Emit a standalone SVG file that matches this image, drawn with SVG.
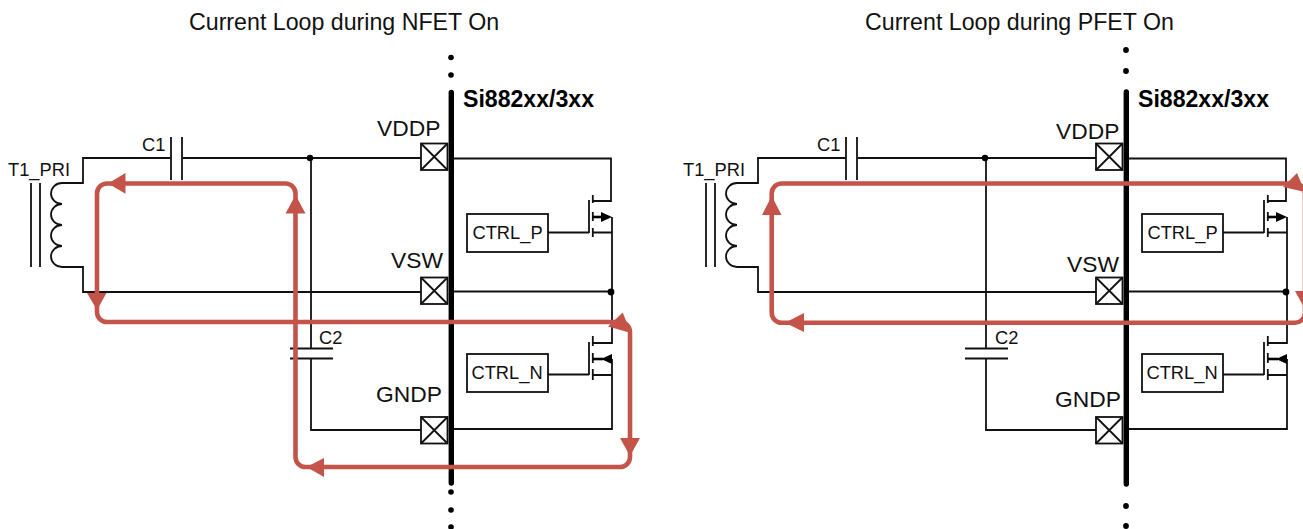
<svg xmlns="http://www.w3.org/2000/svg" width="1303" height="529" viewBox="0 0 1303 529">
<defs>
<style>
text{font-family:"Liberation Sans",Arial,sans-serif;fill:#111}
.t{font-size:18.3px}.l{font-size:22.8px}.h{font-size:23.2px}.b{font-size:23.1px;font-weight:bold;fill:#000}
.w{fill:none;stroke:#111;stroke-width:1.8}
.s{fill:none;stroke:#000;stroke-width:2.6}
.r{fill:none;stroke:#c4544a;stroke-width:4.600}
.a{fill:#c4544a}
.box{fill:#fff;stroke:#111;stroke-width:1.8}
.bar{stroke:#000;stroke-width:5.400;stroke-linecap:round;fill:none}
</style>
<g id="pad"><rect class="box" x="0" y="0" width="26.500" height="26.500"/><path class="w" d="M0 0L26.500 26.500M26.500 0L0 26.500"/></g>
</defs>
<rect width="1303" height="529" fill="#fff"/>

<g id="titles">
<text class="h" x="189" y="30">Current Loop during NFET On</text>
<text class="h" x="865" y="30">Current Loop during PFET On</text>
</g>

<g id="left-panel">
<g id="connectors-left">
<path class="w" d="M170.500 158H83V183H62M62 267H83V292H421M183 158H421M311 158V348.500M311 358.500V430H421"/>
<path class="w" d="M454 158.500H611V201H593M612 217V343H593M454 291.500H611M612 359V429H454M612 375H593M612 232.500H593"/>
<path class="w" d="M548 232.500H589M548 374.500H589"/>
<path class="w" d="M62 183A11 10.500 0 0 0 62 204H57M57 204H62A11 10.500 0 0 0 62 225H57M57 225H62A11 10.500 0 0 0 62 246H57M57 246H62A11 10.500 0 0 0 62 267"/>
<path class="w" d="M31 183V267M40 183V267"/>
<circle cx="310" cy="158" r="3.200" fill="#000"/>
<circle cx="611" cy="292" r="3.400" fill="#000"/>
</g>
<g id="C1-l"><path class="w" d="M171 137V180M182 137V180"/><text class="t" x="142" y="151">C1</text></g>
<g id="C2-l"><path class="w" d="M290 348.500H333M290 358.500H333"/><text class="t" x="319" y="344">C2</text></g>
<g id="T1-l"><text class="t" x="8" y="176">T1_PRI</text></g>
<g id="isolator-l"><path class="bar" d="M451.300 92.500V483"/><circle cx="451" cy="57.500" r="2.800"/><circle cx="451" cy="75" r="2.800"/><circle cx="451" cy="492" r="2.800"/><circle cx="451" cy="510" r="2.800"/><circle cx="451" cy="527" r="2.800"/><text class="b" x="463" y="107">Si882xx/3xx</text></g>
<g id="VDDP-l"><use href="#pad" x="421" y="143.500"/><text class="l" x="377" y="136">VDDP</text></g>
<g id="VSW-l"><use href="#pad" x="421" y="277.500"/><text class="l" x="391" y="268">VSW</text></g>
<g id="GNDP-l"><use href="#pad" x="421" y="417"/><text class="l" x="376" y="402">GNDP</text></g>
<g id="CTRL_P-l"><rect class="box" x="467" y="214" width="81" height="38"/><text class="t" x="472.500" y="239">CTRL_P</text></g>
<g id="CTRL_N-l"><rect class="box" x="467" y="354" width="81" height="38"/><text class="t" x="471.500" y="379">CTRL_N</text></g>
<g id="PFET-l"><path class="w" d="M589 200V233M592.800 195V203M592.800 212V221M592.800 228V237"/><path class="s" d="M593 217H603"/><path d="M612 217L601 212V222Z"/></g>
<g id="NFET-l"><path class="w" d="M589 342V375M592.800 336V346M592.800 353V363M592.800 369V380"/><path class="s" d="M593 359H603"/><path d="M601 359L612 354V364Z"/></g>
<g id="loop-l">
<path class="r" d="M295.500 457V193.500A10 10 0 0 0 285.500 183.500H107A10 10 0 0 0 97 193.500V312A10 10 0 0 0 107 322H620A10 10 0 0 1 630 332V457A10 10 0 0 1 620 467H305.500A10 10 0 0 1 295.500 457Z"/>
<path class="a" d="M108 183.500L125.500 173V193.800Z"/>
<path class="a" d="M295.500 195L285.500 213.500H305.500Z"/>
<path class="a" d="M97 310L87 293H106.500Z"/>
<path class="a" d="M631 333L622.700 312.500L608 326.500Z"/>
<path class="a" d="M630 456L620 438H640Z"/>
<path class="a" d="M306.500 467L324 458V477Z"/>
</g>
</g>

<g id="right-panel" transform="translate(675 0)">
<g id="connectors-right">
<path class="w" d="M170.500 158H83V183H62M62 267H83V292H421M183 158H421M311 158V348.500M311 358.500V430H421"/>
<path class="w" d="M454 158.500H611V201H593M612 217V343H593M454 291.500H611M612 359V429H454M612 375H593M612 232.500H593"/>
<path class="w" d="M548 232.500H589M548 374.500H589"/>
<path class="w" d="M62 183A11 10.500 0 0 0 62 204H57M57 204H62A11 10.500 0 0 0 62 225H57M57 225H62A11 10.500 0 0 0 62 246H57M57 246H62A11 10.500 0 0 0 62 267"/>
<path class="w" d="M31 183V267M40 183V267"/>
<circle cx="310" cy="158" r="3.200" fill="#000"/>
<circle cx="611" cy="292" r="3.400" fill="#000"/>
</g>
<g id="C1-r"><path class="w" d="M171 137V180M182 137V180"/><text class="t" x="142" y="151">C1</text></g>
<g id="C2-r"><path class="w" d="M290 348.500H333M290 358.500H333"/><text class="t" x="320" y="344">C2</text></g>
<g id="T1-r"><text class="t" x="8" y="176">T1_PRI</text></g>
<g id="isolator-r"><path class="bar" d="M451.300 92V484"/><circle cx="451" cy="50" r="2.900"/><circle cx="451" cy="71" r="2.900"/><circle cx="451" cy="506" r="2.900"/><circle cx="451" cy="526" r="2.900"/><text class="b" x="463" y="107">Si882xx/3xx</text></g>
<g id="VDDP-r"><use href="#pad" x="421" y="143.500"/><text class="l" x="381" y="139">VDDP</text></g>
<g id="VSW-r"><use href="#pad" x="421" y="277.500"/><text class="l" x="392" y="272">VSW</text></g>
<g id="GNDP-r"><use href="#pad" x="421" y="417"/><text class="l" x="380" y="407">GNDP</text></g>
<g id="CTRL_P-r"><rect class="box" x="467" y="214" width="81" height="38"/><text class="t" x="472.500" y="239">CTRL_P</text></g>
<g id="CTRL_N-r"><rect class="box" x="467" y="354" width="81" height="38"/><text class="t" x="471.500" y="379">CTRL_N</text></g>
<g id="PFET-r"><path class="w" d="M589 200V233M592.800 195V203M592.800 212V221M592.800 228V237"/><path class="s" d="M593 217H603"/><path d="M612 217L601 212V222Z"/></g>
<g id="NFET-r"><path class="w" d="M589 342V375M592.800 336V346M592.800 353V363M592.800 369V380"/><path class="s" d="M593 359H603"/><path d="M601 359L612 354V364Z"/></g>
<g id="loop-r">
<path class="r" d="M96.700 193.500A10 10 0 0 1 106.700 183.500H620A10 10 0 0 1 630 193.500V312.700A10 10 0 0 1 620 322.700H106.700A10 10 0 0 1 96.700 312.700Z"/>
<path class="a" d="M96.700 196L87 215H106.500Z"/>
<path class="a" d="M110 322.700L129 313V332Z"/>
<path class="a" d="M630 192L622 173L608 187Z"/>
<path class="a" d="M630 309L620 291H640Z"/>
</g>
</g>
</svg>
